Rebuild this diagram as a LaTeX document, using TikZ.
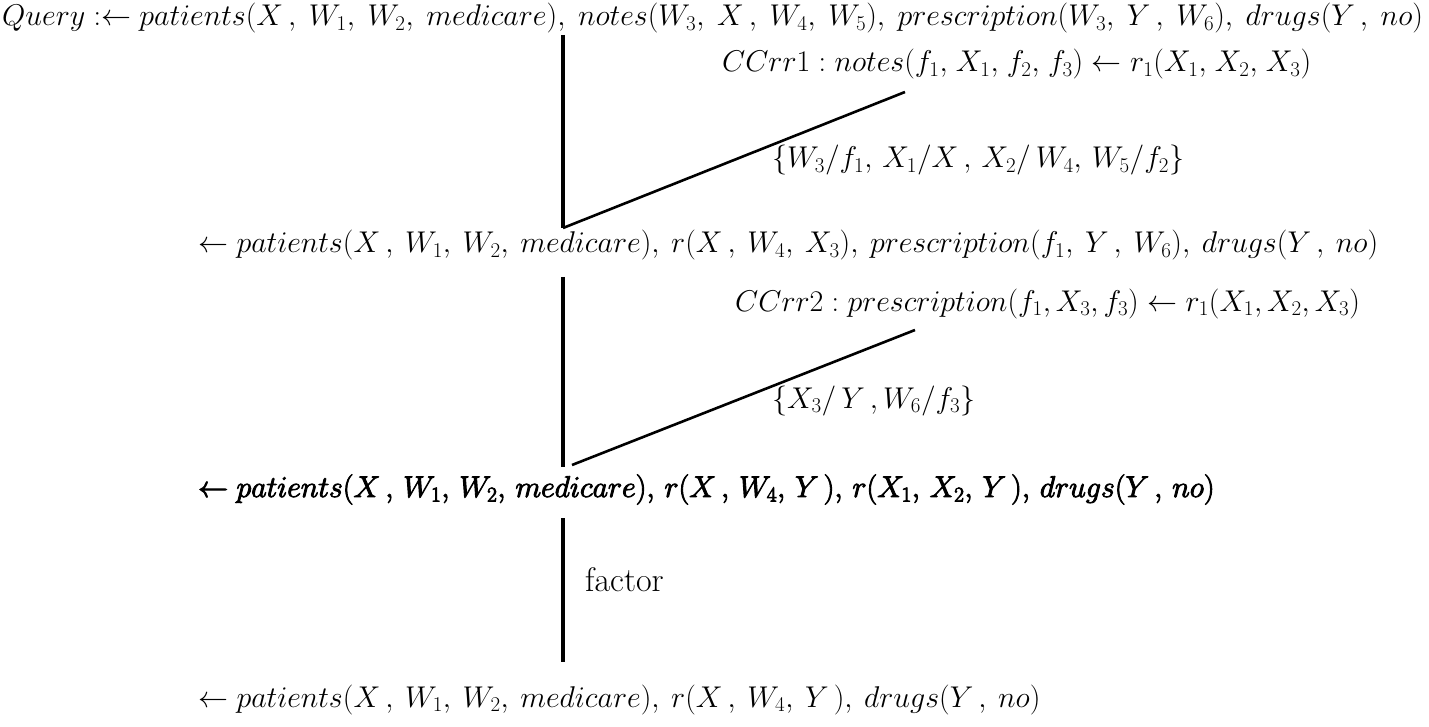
\RequirePackage{fix-cm}
\documentclass[tikz,border=0pt]{standalone}
\usepackage{tikz}
\newcommand{\cmsp}{,\mskip4mu}
\newcommand{\cmtop}{,\mskip4.6mu}
\newcommand{\cmb}{,\mskip3mu}
\newcommand{\csm}{,\mskip2mu}
\newcommand{\fakeboldon}{\special{pdf:literal direct 2 Tr 0.9 w}}
\newcommand{\fakeboldoff}{\special{pdf:literal direct 0 Tr}}
\tikzset{
  txt/.style={inner sep=0pt, anchor=base west, font=\fontsize{30}{36}\selectfont},
  ln/.style={line width=3.5pt},
  dg/.style={line width=2.6pt}
}
\begin{document}
\begin{tikzpicture}[x=1pt,y=-1pt]
\useasboundingbox (0,0) rectangle (1429,727);
\node[txt] (q0) at (2,26) {$Query :\leftarrow patients(X\,\cmtop W_1\cmtop W_2\cmtop medicare)\cmtop notes(W_3\cmtop X\,\cmtop W_4\cmtop W_5)\cmtop prescription(W_3\cmtop Y\,\cmtop W_6)\cmtop drugs(Y\,\cmtop no)$};
\node[txt] (r1) at (722,72) {$CCrr1 : notes(f_1\csm X_1\csm f_2\csm f_3) \leftarrow r_1(X_1\csm X_2\csm X_3)$};
\node[txt] (s1) at (772,168) {$\{W_3/f_1,\, X_1/X\,,\, X_2/\,W_4,\, W_5/f_2\}$};
\node[txt] (q1) at (198,253) {$\leftarrow patients(X\,\cmsp W_1\cmsp W_2\cmsp medicare)\cmsp r(X\,\cmsp W_4\cmsp X_3)\cmsp prescription(f_1\cmsp Y\,\cmsp W_6)\cmsp drugs(Y\,\cmsp no)$};
\node[txt] (r2) at (735,311) {$CCrr2 : prescription(f_1, X_3, f_3) \leftarrow r_1(X_1, X_2, X_3)$};
\node[txt] (s2) at (772,408) {$\{X_3/\,Y\,, W_6/f_3\}$};
\node[txt] (q2) at (198,497) {\fakeboldon$\leftarrow patients(X\,\cmb W_1\cmb W_2\cmb medicare)\cmb r(X\,\cmb W_4\cmb Y\,)\cmb r(X_1\cmb X_2\cmb Y\,)\cmb drugs(Y\,\cmb no)$\fakeboldoff};
\node[txt, font=\fontsize{34}{40}\selectfont] (fac) at (585,591) {factor};
\node[txt] (q3) at (198,707) {$\leftarrow patients(X\,\cmsp W_1\cmsp W_2\cmsp medicare)\cmsp r(X\,\cmsp W_4\cmsp Y\,)\cmsp drugs(Y\,\cmsp no)$};
\coordinate (a1) at (563,35);
\coordinate (b1) at (563,228);
\coordinate (c1) at (905,92);
\coordinate (a2) at (563,277);
\coordinate (b2) at (563,467);
\coordinate (d2) at (572,465);
\coordinate (c2) at (915,330);
\coordinate (a3) at (563,518);
\coordinate (b3) at (563,662);
\draw[ln] (a1) -- (b1);
\draw[dg] (b1) -- (c1);
\draw[ln] (a2) -- (b2);
\draw[dg] (d2) -- (c2);
\draw[ln] (a3) -- (b3);
\end{tikzpicture}
\end{document}
